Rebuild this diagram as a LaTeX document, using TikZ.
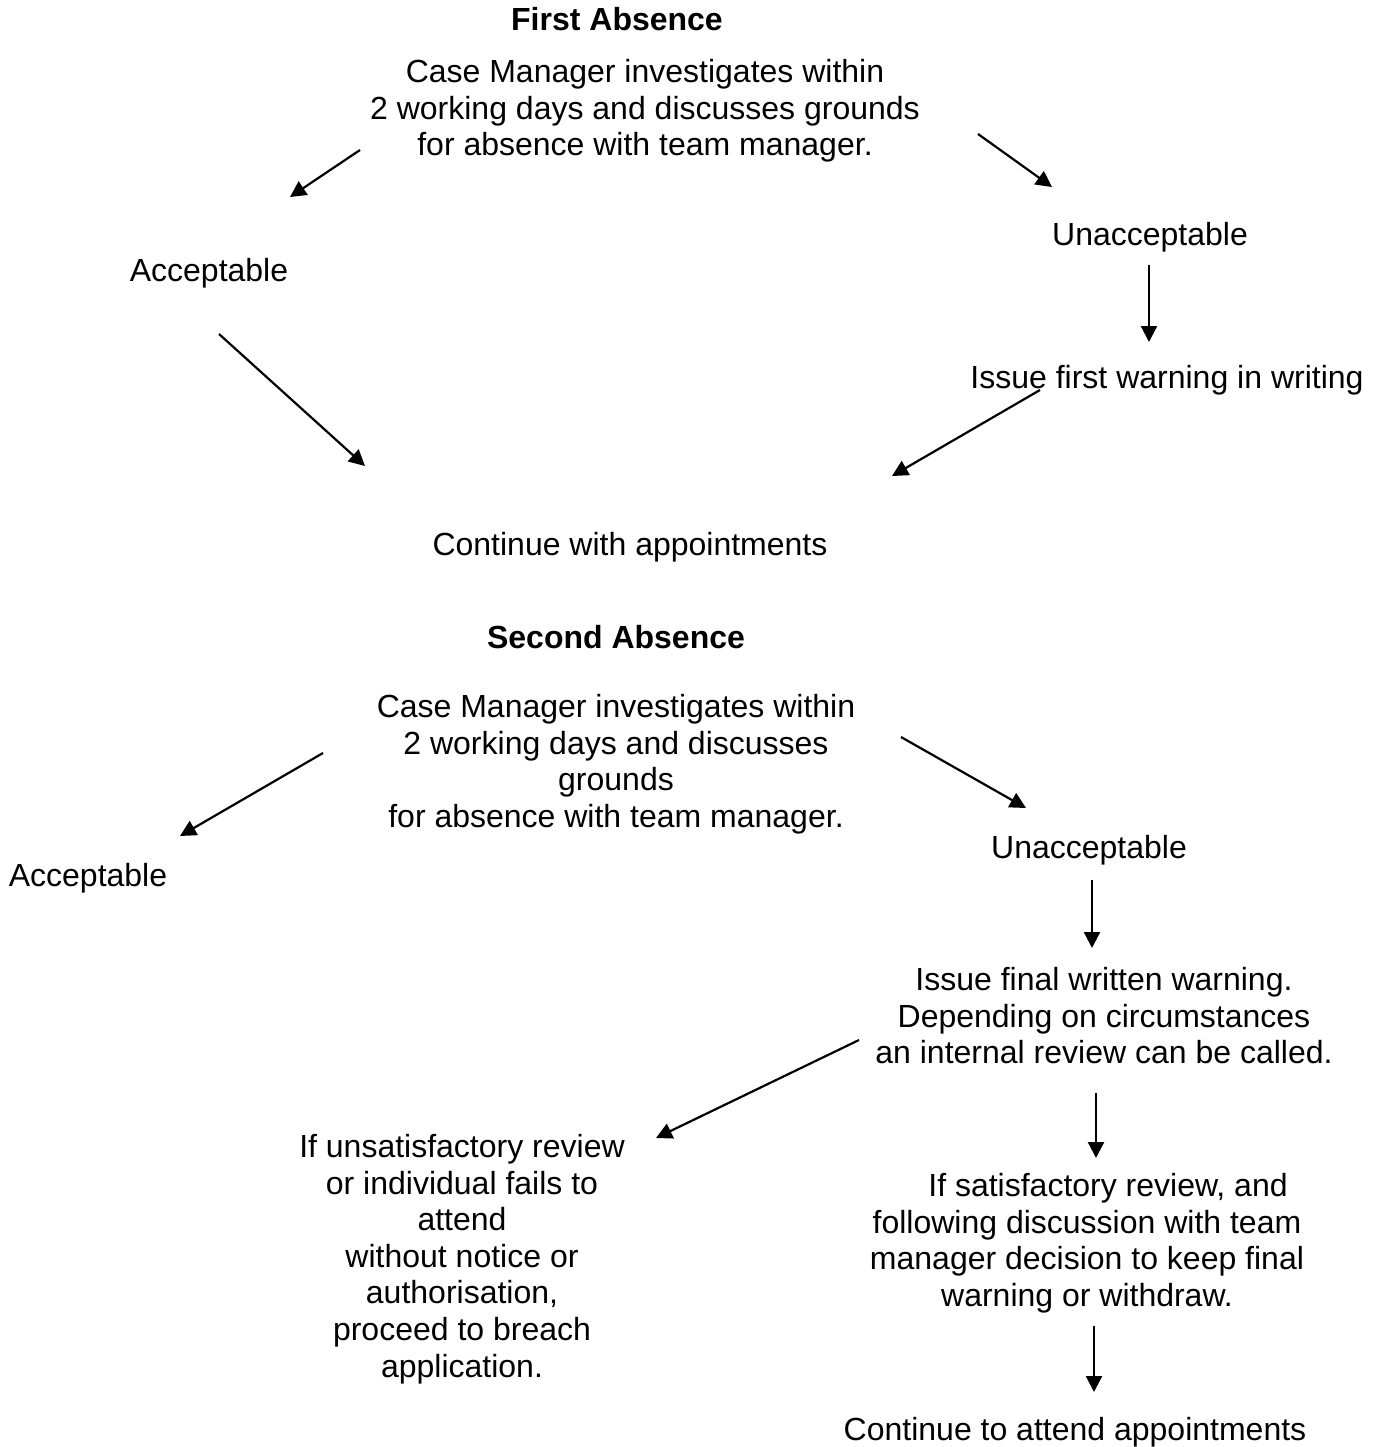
\documentclass[tikz,border=0pt]{standalone}
\usepackage{fontspec}
\setmainfont{Liberation Sans}
\usetikzlibrary{arrows.meta}
\begin{document}
\begin{tikzpicture}[x=0.5pt,y=-0.5pt,
  every node/.style={font=\fontsize{16}{18.3}\selectfont, inner sep=0pt},
  one/.style={anchor=base},
  multi/.style={anchor=north, align=center},
  head/.style={anchor=base, font=\fontsize{16}{18.3}\selectfont\bfseries},
  arr/.style={line width=1.1pt, -{Triangle[length=8pt,width=8pt]}}]
\useasboundingbox (0,0) rectangle (1380,1447);
% First absence
\node[head] (t1) at (617,30) {First Absence};
\node[multi] (c1) at (645,56.4) {\strut Case Manager investigates within\\2 working days and discusses grounds\\for absence with team manager.};
\node[one] (u1) at (1150,245) {Unacceptable};
\node[one] (a1) at (209,281) {Acceptable};
\node[one] (w1) at (1167,388) {Issue first warning in writing};
\node[one] (k1) at (630,555) {Continue with appointments};
% Second absence
\node[head] (t2) at (616,648) {Second Absence};
\node[multi] (c2) at (616,691.4) {\strut Case Manager investigates within\\2 working days and discusses\\grounds\\for absence with team manager.};
\node[one] (a2) at (88,886) {Acceptable};
\node[one] (u2) at (1089,858) {Unacceptable};
\node[multi] (f2) at (1104,964.4) {\strut Issue final written warning.\\Depending on circumstances\\an internal review can be called.};
\node[multi] (r2) at (462,1131.4) {\strut If unsatisfactory review\\or individual fails to\\attend\\without notice or\\authorisation,\\proceed to breach\\application.};
\node[multi] (s2) at (1087,1170.4) {\strut\hspace*{21pt}If satisfactory review, and\\following discussion with team\\manager decision to keep final\\warning or withdraw.};
\node[one] (k2) at (1075,1440) {Continue to attend appointments};
% connector end points
\coordinate (c1a) at (360,150); \coordinate (a1t) at (290,197);
\coordinate (c1u) at (978,134); \coordinate (u1t) at (1052,187);
\coordinate (u1w) at (1149,265); \coordinate (w1t) at (1149,342);
\coordinate (a1k) at (219,334); \coordinate (k1l) at (365,466);
\coordinate (w1k) at (1040,390); \coordinate (k1r) at (892,476);
\coordinate (c2a) at (323,753); \coordinate (a2t) at (180,836);
\coordinate (c2u) at (901,737); \coordinate (u2t) at (1026,808);
\coordinate (u2f) at (1092,880); \coordinate (f2t) at (1092,948);
\coordinate (f2r) at (859,1040); \coordinate (r2t) at (656,1138);
\coordinate (f2s) at (1096,1093); \coordinate (s2t) at (1096,1158);
\coordinate (s2k) at (1094,1326); \coordinate (k2t) at (1094,1392);
\draw[arr] (c1a) -- (a1t);
\draw[arr] (c1u) -- (u1t);
\draw[arr] (u1w) -- (w1t);
\draw[arr] (a1k) -- (k1l);
\draw[arr] (w1k) -- (k1r);
\draw[arr] (c2a) -- (a2t);
\draw[arr] (c2u) -- (u2t);
\draw[arr] (u2f) -- (f2t);
\draw[arr] (f2r) -- (r2t);
\draw[arr] (f2s) -- (s2t);
\draw[arr] (s2k) -- (k2t);
\end{tikzpicture}
\end{document}
